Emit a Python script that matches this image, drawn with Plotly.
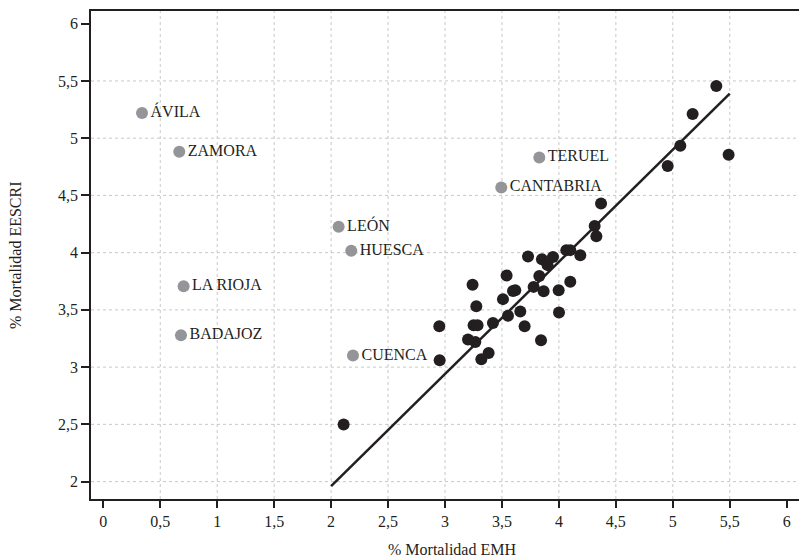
import plotly.graph_objects as go

# ---- data ----
outlier_names = ["ÁVILA", "ZAMORA", "LA RIOJA", "BADAJOZ", "LEÓN", "HUESCA", "CUENCA", "TERUEL", "CANTABRIA"]
outlier_x = [0.34, 0.667, 0.705, 0.682, 2.066, 2.177, 2.192, 3.828, 3.494]
outlier_y = [5.22, 4.881, 3.707, 3.279, 4.226, 4.016, 3.101, 4.832, 4.570]

core_x = [5.382, 5.174, 5.066, 5.490, 4.955, 4.370, 4.314, 4.329, 4.065, 4.100,
          4.188, 3.729, 3.851, 3.948, 3.901, 3.828, 3.541, 3.242, 3.778, 3.617,
          3.597, 3.866, 3.998, 4.100, 3.509, 3.275, 3.661, 3.553, 4.001, 2.950,
          3.251, 3.286, 3.421, 3.699, 3.202, 3.266, 3.843, 3.383, 3.319, 2.953,
          2.110]
core_y = [5.455, 5.211, 4.934, 4.855, 4.756, 4.430, 4.232, 4.144, 4.022, 4.022,
          3.978, 3.967, 3.943, 3.963, 3.891, 3.797, 3.801, 3.719, 3.701, 3.672,
          3.665, 3.663, 3.672, 3.745, 3.594, 3.532, 3.486, 3.448, 3.477, 3.358,
          3.366, 3.366, 3.386, 3.358, 3.241, 3.220, 3.235, 3.124, 3.069, 3.060,
          2.498]

fit_x = [2.0, 5.5]
fit_y = [1.96, 5.39]

x_ticks = [0, 0.5, 1, 1.5, 2, 2.5, 3, 3.5, 4, 4.5, 5, 5.5, 6]
x_tick_labels = ["0", "0,5", "1", "1,5", "2", "2,5", "3", "3,5", "4", "4,5", "5", "5,5", "6"]
y_ticks = [2, 2.5, 3, 3.5, 4, 4.5, 5, 5.5, 6]
y_tick_labels = ["2", "2,5", "3", "3,5", "4", "4,5", "5", "5,5", "6"]
x_grid = [0.5, 1, 1.5, 2, 2.5, 3, 3.5, 4, 4.5, 5, 5.5]
y_grid = [2, 2.5, 3, 3.5, 4, 4.5, 5, 5.5]
x_title = "% Mortalidad EMH"
y_title = "% Mortalidad EESCRI"

DARK = "#231f20"
GREY = "#939598"
FONT = "Liberation Serif"

fig = go.Figure()

fig.add_trace(go.Scatter(
    x=fit_x, y=fit_y, mode="lines",
    line=dict(color=DARK, width=2.5), hoverinfo="skip", showlegend=False))

fig.add_trace(go.Scatter(
    x=core_x, y=core_y, mode="markers",
    marker=dict(color=DARK, size=12, line=dict(width=0)), showlegend=False))

fig.add_trace(go.Scatter(
    x=outlier_x, y=outlier_y, mode="markers+text",
    text=outlier_names, textposition="middle right",
    textfont=dict(family=FONT, size=16, color=DARK),
    marker=dict(color=GREY, size=12, line=dict(width=0)), showlegend=False))

shapes = []
for gx in x_grid:
    shapes.append(dict(type="line", xref="x", yref="paper", x0=gx, x1=gx, y0=0, y1=1,
                       line=dict(color="#c8c8c8", width=1, dash="3px,3px"), layer="below"))
for gy in y_grid:
    shapes.append(dict(type="line", xref="paper", yref="y", x0=0, x1=1, y0=gy, y1=gy,
                       line=dict(color="#c8c8c8", width=1, dash="3px,3px"), layer="below"))

annotations = [
    dict(text=x_title, xref="paper", yref="paper", x=0.51, y=0, yshift=-50,
         xanchor="center", yanchor="middle", showarrow=False,
         font=dict(family=FONT, size=16, color=DARK)),
    dict(text=y_title, xref="paper", yref="paper", x=0, y=0.5, xshift=-76,
         xanchor="center", yanchor="middle", textangle=-90, showarrow=False,
         font=dict(family=FONT, size=16, color=DARK)),
]

fig.update_layout(
    width=799, height=560,
    margin=dict(l=91, r=0, t=11, b=61, autoexpand=False),
    paper_bgcolor="white", plot_bgcolor="white",
    font=dict(family=FONT, size=16, color=DARK),
    shapes=shapes, annotations=annotations,
    xaxis=dict(
        range=[-0.108, 6.108], tickmode="array", tickvals=x_ticks, ticktext=x_tick_labels,
        showgrid=False, zeroline=False, showline=True, linecolor=DARK, linewidth=1.5,
        mirror=True, ticks="outside", ticklen=7, tickwidth=1.5, tickcolor=DARK,
        tickfont=dict(family=FONT, size=16, color=DARK), automargin=False,
    ),
    yaxis=dict(
        range=[1.848, 6.111], tickmode="array", tickvals=y_ticks, ticktext=y_tick_labels,
        showgrid=False, zeroline=False, showline=True, linecolor=DARK, linewidth=1.5,
        mirror=False, ticks="outside", ticklen=8, tickwidth=1.5, tickcolor=DARK,
        tickfont=dict(family=FONT, size=16, color=DARK), automargin=False,
    ),
)

fig.write_html(
    "out.html",
    config={"displayModeBar": False},
    post_script="document.body.style.margin='0';document.body.style.overflow='hidden';",
)
